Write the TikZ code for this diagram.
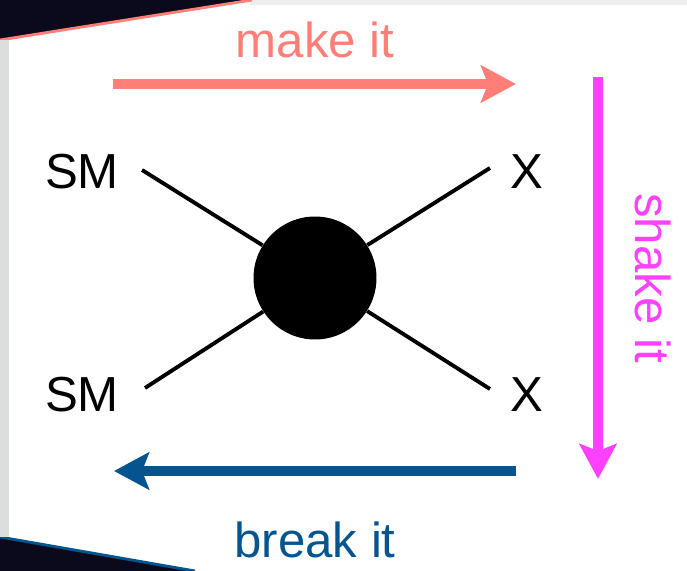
\documentclass[tikz,border=0pt]{standalone}
\usepackage{fontspec}
\setmainfont{Liberation Sans}
\usepackage{tikz}
\usetikzlibrary{arrows.meta,positioning}
\definecolor{makecol}{HTML}{FF7F78}
\definecolor{shakecol}{HTML}{FF40FF}
\definecolor{breakcol}{HTML}{03548F}
\definecolor{slidebg}{HTML}{0B0A1C}
\definecolor{edgegrey}{HTML}{DCDEDE}
\tikzset{
  field/.style={font=\fontsize{28}{30}\selectfont, text=black, inner sep=2pt},
  lbl/.style={font=\fontsize{28}{30}\selectfont, text=#1, inner sep=2pt},
  leg/.style={line width=2.2pt, black},
  bigarrow/.style={line width=5.6pt, color=#1,
    -{Stealth[length=0.7cm, width=0.74cm, inset=0.14cm]}},
}

\begin{document}
\begin{tikzpicture}[x=0.02cm, y=-0.02cm]
  \useasboundingbox (0,0) rectangle (687,571);

  % slide corners
  \fill[edgegrey!50] (250,0) rectangle (687,5);
  \fill[slidebg] (0,0) -- (252,0) -- (0,40) -- cycle;
  \draw[makecol, line width=1.6pt] (252,0) -- (0,40);
  \fill[slidebg] (0,571) -- (0,537) -- (195,571) -- cycle;
  \draw[breakcol, line width=1.6pt] (0,537) -- (195,571);
  \fill[edgegrey] (0,40) rectangle (9,537);

  % vertex
  \node[circle, fill=black, minimum size=2.46cm, inner sep=0pt] (blob) at (315,278) {};
  \node[field] (smtop) at (82,172) {SM};
  \node[field] (smbot) at (82,395) {SM};
  \node[field] (xtop) at (527,172) {X};
  \node[field] (xbot) at (527,395) {X};

  \coordinate (legtl) at (142,170);
  \coordinate (legbl) at (145,388);
  \coordinate (legtr) at (490,168);
  \coordinate (legbr) at (490,389);
  \draw[leg] (legtl) -- (blob);
  \draw[leg] (legbl) -- (blob);
  \draw[leg] (blob) -- (legtr);
  \draw[leg] (blob) -- (legbr);

  % cycle arrows
  \coordinate (makes) at (113,84);
  \coordinate (makee) at (516,84);
  \coordinate (shakes) at (598,77);
  \coordinate (shakee) at (598,479);
  \coordinate (breaks) at (516,471);
  \coordinate (breake) at (114,471);
  \draw[bigarrow=makecol] (makes) -- (makee);
  \draw[bigarrow=shakecol] (shakes) -- (shakee);
  \draw[bigarrow=breakcol] (breaks) -- (breake);

  \node[lbl=makecol] (make) at (315,40) {make it};
  \node[lbl=shakecol, rotate=-90] (shake) at (653,278) {shake it};
  \node[lbl=breakcol] (break) at (315,540) {break it};

\end{tikzpicture}
\end{document}
